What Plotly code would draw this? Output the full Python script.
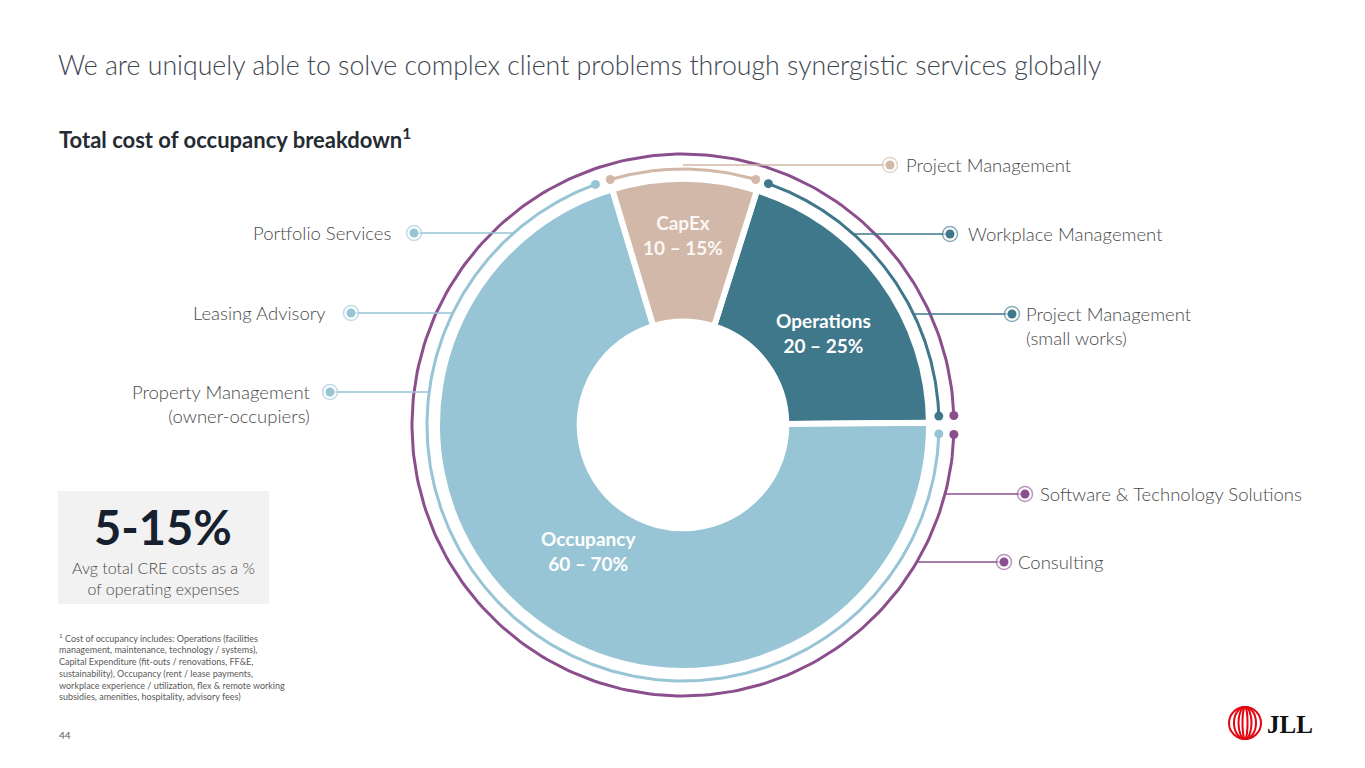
import numpy as np
import plotly.graph_objects as go

# ---------------- data ----------------
slice_labels = ["Operations", "Occupancy", "CapEx"]
slice_values = [20, 70.5, 9.5]
slice_ranges = ["20 – 25%", "60 – 70%", "10 – 15%"]
slice_colors = ["#3F778B", "#97C5D5", "#D1B8A8"]

right_services = ["Project Management", "Workplace Management", "Project Management<br>(small works)",
                  "Software & Technology Solutions", "Consulting"]
left_services = ["Portfolio Services", "Leasing Advisory", "Property Management<br>(owner-occupiers)"]

title_text = "We are uniquely able to solve complex client problems through synergistic services globally"
subtitle_text = "<b>Total cost of occupancy breakdown<sup>1</sup></b>"
kpi_value = "5-15%"
kpi_text = "Avg total CRE costs as a %<br>of operating expenses"
footnote = ("<sup>1</sup> Cost of occupancy includes: Operations (facilities<br>"
            "management, maintenance, technology / systems),<br>"
            "Capital Expenditure (fit-outs / renovations, FF&E,<br>"
            "sustainability), Occupancy (rent / lease payments,<br>"
            "workplace experience / utilization, flex & remote working<br>"
            "subsidies, amenities, hospitality, advisory fees)")
page_no = "44"

# ---------------- layout geometry ----------------
W, H = 1365, 768
OFF = 8  # page body margin
CX, CY, R = 683, 425, 246
HOLE = 0.42
TEXT = "#4A4A4A"
PURPLE = "#8C4F8E"
FONT = "Source Sans Pro, Lato, Noto Sans, sans-serif"

fig = go.Figure()

cxd, cyd = CX - OFF, CY - OFF
fig.add_trace(go.Pie(
    labels=slice_labels, values=slice_values, sort=False, direction="clockwise",
    rotation=17.5, hole=HOLE, textinfo="none", hoverinfo="label",
    marker=dict(colors=slice_colors, line=dict(color="white", width=6)),
    domain=dict(x=[(cxd - R) / W, (cxd + R) / W], y=[(H - cyd - R) / H, (H - cyd + R) / H]),
    showlegend=False,
))

def arc(r, a0, a1, color, width):
    a = np.radians(np.linspace(a0, a1, 300))
    x = CX + r * np.sin(a)
    y = CY - r * np.cos(a)
    fig.add_trace(go.Scatter(x=x, y=y, mode="lines", line=dict(color=color, width=width),
                             hoverinfo="skip", showlegend=False))
    fig.add_trace(go.Scatter(x=[x[0], x[-1]], y=[y[0], y[-1]], mode="markers",
                             marker=dict(color=color, size=9), hoverinfo="skip", showlegend=False))

R_IN = 256
R_OUT = 271
arc(R_IN, 92, 340, "#97C5D5", 3)        # occupancy services
arc(R_IN, -16.5, 16.5, "#D1B8A8", 3)     # capex
arc(R_IN, 19.5, 88, "#3F778B", 3)       # operations
arc(R_OUT, 92, 448, PURPLE, 3)          # all-round

def connector(y, r, side, xdot, color, label, lx, two_line=False):
    dy = y - CY
    dx = np.sqrt(max(r * r - dy * dy, 0))
    xa = CX + dx if side == "right" else CX - dx
    fig.add_trace(go.Scatter(x=[xa, xdot], y=[y, y], mode="lines", line=dict(color=color, width=1.5),
                             hoverinfo="skip", showlegend=False))
    fig.add_trace(go.Scatter(x=[xdot], y=[y], mode="markers",
                             marker=dict(color="white", size=15, line=dict(color=color, width=1.5), opacity=0.6),
                             hoverinfo="skip", showlegend=False))
    fig.add_trace(go.Scatter(x=[xdot], y=[y], mode="markers", marker=dict(color=color, size=9),
                             hoverinfo="skip", showlegend=False))
    yshift = -12 if two_line else 0
    fig.add_annotation(x=lx, y=y, text=label, showarrow=False, xref="x", yref="y",
                       xanchor="left" if side == "right" else "right", yanchor="middle",
                       align="left" if side == "right" else "right", yshift=yshift,
                       font=dict(family=FONT, size=18.5, color=TEXT, weight=300))

connector(165, R_IN - 88, "right", 890, "#D1B8A8", right_services[0], 904)
connector(234, R_IN, "right", 950, "#3F778B", right_services[1], 966)
connector(314, R_IN, "right", 1012, "#3F778B", right_services[2], 1024, two_line=True)
connector(494, R_OUT, "right", 1025, PURPLE, right_services[3], 1038)
connector(562, R_OUT, "right", 1004, PURPLE, right_services[4], 1016)
connector(233, R_IN, "left", 414, "#97C5D5", left_services[0], 393)
connector(313, R_IN, "left", 351, "#97C5D5", left_services[1], 328)
connector(392, R_IN, "left", 330, "#97C5D5", left_services[2], 313, two_line=True)

# slice labels
slice_pos = {"CapEx": (683, 235), "Operations": (823, 333), "Occupancy": (588, 551)}
for lab, rng in zip(slice_labels, slice_ranges):
    px, py = slice_pos[lab]
    fig.add_annotation(x=px, y=py, text=f"<b>{lab}</b><br><b>{rng}</b>", showarrow=False,
                       font=dict(family=FONT, size=19, color="white" if lab != "CapEx" else "#FBF7F4"),
                       xanchor="center", yanchor="middle", align="center")

# titles
fig.add_annotation(x=56, y=65, text=title_text, showarrow=False, xanchor="left", yanchor="middle",
                   font=dict(family=FONT, size=26.7, color="#3E4650", weight=300))
fig.add_annotation(x=57, y=138, text=subtitle_text, showarrow=False, xanchor="left", yanchor="middle",
                   font=dict(family=FONT, size=22, color="#252B33"))

# KPI box
fig.add_shape(type="rect", x0=58, x1=269, y0=491, y1=604, fillcolor="#F2F2F2", line=dict(width=0),
              layer="below")
fig.add_annotation(x=163, y=527, text=f"<b>{kpi_value}</b>", showarrow=False, xanchor="center", yanchor="middle",
                   font=dict(family=FONT, size=47, color="#16202E"))
fig.add_annotation(x=163, y=578, text=kpi_text, showarrow=False, xanchor="center", yanchor="middle",
                   align="center", font=dict(family=FONT, size=16, color=TEXT, weight=300))

fig.add_annotation(x=57, y=667, text=footnote, showarrow=False, xanchor="left", yanchor="middle", align="left",
                   font=dict(family=FONT, size=9, color="#5A5A5A"))
fig.add_annotation(x=57, y=735, text=page_no, showarrow=False, xanchor="left", yanchor="middle",
                   font=dict(family=FONT, size=10, color="#5A5A5A"))

# JLL logo
LX, LY = 1245, 723
for hw in [16, 11, 6.5, 2.5]:
    fig.add_shape(type="circle", x0=LX - hw, x1=LX + hw, y0=LY - 16, y1=LY + 16,
                  line=dict(color="#E30613", width=2))
fig.add_annotation(x=1265, y=724, text="<b>JLL</b>", showarrow=False, xanchor="left", yanchor="middle",
                   font=dict(family="Liberation Serif, DejaVu Serif, serif", size=25, color="#111111"))

fig.update_layout(
    width=W, height=H, autosize=False,
    margin=dict(l=0, r=0, t=0, b=0),
    paper_bgcolor="white", plot_bgcolor="rgba(0,0,0,0)",
    xaxis=dict(range=[OFF, W + OFF], visible=False, fixedrange=True),
    yaxis=dict(range=[H + OFF, OFF], visible=False, fixedrange=True),
    showlegend=False,
)

fig.write_html("out.html")
